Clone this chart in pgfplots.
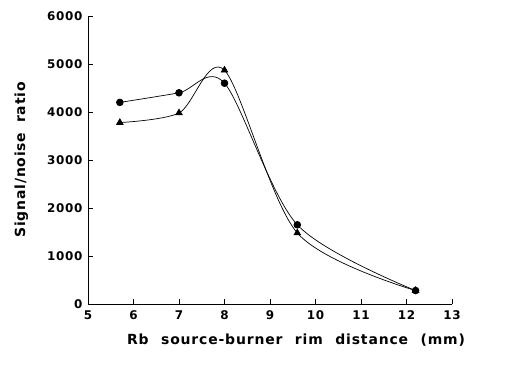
\documentclass[border=0pt]{standalone}
\usepackage{fontspec}
\setmainfont{DejaVu Sans}[LetterSpace=6]
\usepackage{pgfplots}
\pgfplotsset{compat=1.18}
\begin{document}
\begin{tikzpicture}
\begin{axis}[
  scale only axis,
  width=364bp, height=288bp,
  xmin=5, xmax=13, ymin=0, ymax=6000,
  axis x line*=bottom, axis y line*=left,
  axis line style={line width=0.8pt},
  tick style={black, line width=0.8pt},
  tick align=inside,
  major tick length=5bp,
  xtick={5,6,...,13}, ytick={0,1000,...,6000},
  /pgf/number format/assume math mode=true,
  /pgf/number format/1000 sep={},
  ticklabel style={font=\fontsize{12}{14}\selectfont\bfseries},
  xticklabel style={yshift=-3bp},
  yticklabel style={xshift=-2bp},
  xlabel={Rb\hspace{0.9em}source-burner\hspace{0.9em}rim\hspace{0.9em}distance\hspace{0.9em}(mm)},
  ylabel={Signal/noise\hspace{0.7em}ratio},
  xlabel style={font=\fontsize{14}{16}\selectfont\bfseries, yshift=-7bp, xshift=26bp},
  ylabel style={font=\fontsize{14}{16}\selectfont\bfseries, yshift=12bp},
  clip=false,
]
\addplot[black, line width=0.7pt, smooth, tension=0.5, mark=*, mark size=3.4pt, mark options={solid}] coordinates {
(5.7,4200) (7,4400) (8,4600) (9.6,1650) (12.2,280)};
\addplot[black, line width=0.7pt, smooth, tension=0.5, mark=triangle*, mark size=3.8pt, mark options={solid}] coordinates {
(5.7,3780) (7,3980) (8,4870) (9.6,1480) (12.2,280)};
\end{axis}
\path (-88bp,-65bp) rectangle (432bp,304bp);
\end{tikzpicture}
\end{document}
